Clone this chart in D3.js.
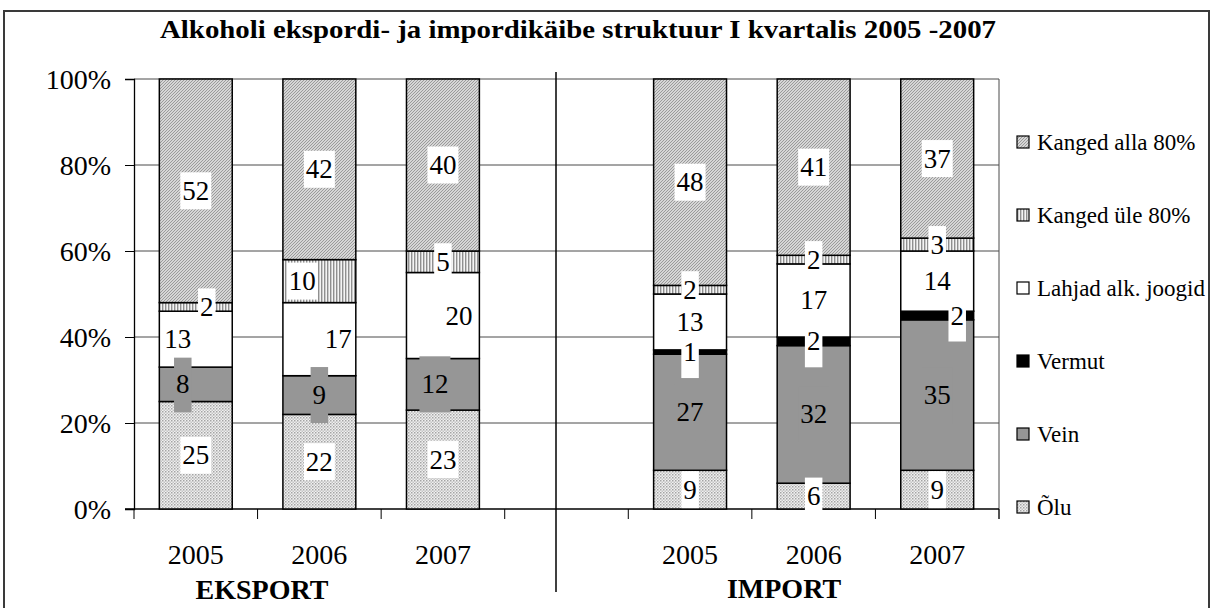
<!DOCTYPE html>
<html>
<head>
<meta charset="utf-8">
<script src="https://cdn.jsdelivr.net/npm/d3@7"></script>
<style>
  body { margin: 0; background: #fff; }
</style>
</head>
<body>
<script>
var serif = "Liberation Serif";

// slots on the x axis: three export years, an empty slot, three import years
var categories = ["E2005", "E2006", "E2007", "gap", "I2005", "I2006", "I2007"];
var tickLabels = ["2005", "2006", "2007", "", "2005", "2006", "2007"];
var seriesNames = ["Õlu", "Vein", "Vermut", "Lahjad alk. joogid", "Kanged üle 80%", "Kanged alla 80%"];

// shares in %, bottom to top
var olu      = [25, 22, 23, 0,  9,  6,  9];
var vein     = [ 8,  9, 12, 0, 27, 32, 35];
var vermut   = [ 0,  0,  0, 0,  1,  2,  2];
var lahjad   = [13, 17, 20, 0, 13, 17, 14];
var kangedYl = [ 2, 10,  5, 0,  2,  2,  3];
var kangedAl = [52, 42, 40, 0, 48, 41, 37];

// Excel put some labels off centre, small x nudge in px
var labelNudge = {
  "E2005": [0, -13, 0, -18, 11, 0],
  "E2006": [0, 0, 0, 19, -17, 0],
  "E2007": [0, -8, 0, 16, 0, 0],
  "I2007": [0, 0, 20, 0, 0, 0]
};

var w = 1212, h = 608;
var margin = {left: 134, right: 213, top: 79, bottom: 99};

var rows = categories.map(function(c, i){
  return {
    cat: c,
    s0: olu[i], s1: vein[i], s2: vermut[i],
    s3: lahjad[i], s4: kangedYl[i], s5: kangedAl[i]
  };
});
var keys = ["s0", "s1", "s2", "s3", "s4", "s5"];

var svg = d3.select("body").append("svg")
            .attr("width", w)
            .attr("height", h)
            .style("font-family", serif);

// patterns
var defs = svg.append("defs");

var pHatch = defs.append("pattern").attr("id", "pAlla")
  .attr("patternUnits", "userSpaceOnUse").attr("width", 3).attr("height", 3);
pHatch.append("rect").attr("width", 3).attr("height", 3).attr("fill", "#d6d6d6");
pHatch.append("path").attr("d", "M-1,1 l2,-2 M0,3 l3,-3 M2,4 l2,-2")
  .attr("stroke", "#9a9a9a").attr("stroke-width", 1);

var pStripe = defs.append("pattern").attr("id", "pYle")
  .attr("patternUnits", "userSpaceOnUse").attr("width", 3).attr("height", 3);
pStripe.append("rect").attr("width", 3).attr("height", 3).attr("fill", "#f4f4f4");
pStripe.append("rect").attr("width", 1.4).attr("height", 3).attr("fill", "#8f8f8f");

var pDots = defs.append("pattern").attr("id", "pOlu")
  .attr("patternUnits", "userSpaceOnUse").attr("width", 3).attr("height", 3);
pDots.append("rect").attr("width", 3).attr("height", 3).attr("fill", "#f0f0f0");
pDots.append("rect").attr("width", 1.5).attr("height", 1.5).attr("fill", "#a4a4a4");
pDots.append("rect").attr("x", 1.5).attr("y", 1.5).attr("width", 1.5).attr("height", 1.5).attr("fill", "#c4c4c4");

var fills = ["url(#pOlu)", "#969696", "#000000", "#ffffff", "url(#pYle)", "url(#pAlla)"];
var labelBg = ["#ffffff", "#969696", "#ffffff", "#ffffff", "#ffffff", "#ffffff"];

// outer frame
svg.append("rect")
   .attr("x", 4).attr("y", 11)
   .attr("width", 1205).attr("height", 610)
   .attr("fill", "none")
   .attr("stroke", "#3a3a3a")
   .attr("stroke-width", 2);

// title is drawn wide in the original, stretch it to the same span
svg.append("text")
   .attr("x", 160).attr("y", 38)
   .attr("textLength", 836)
   .attr("lengthAdjust", "spacingAndGlyphs")
   .style("font-family", serif)
   .style("font-weight", "bold")
   .style("font-size", "25px")
   .text("Alkoholi ekspordi- ja impordikäibe struktuur I kvartalis 2005 -2007");

var x = d3.scaleBand()
          .domain(categories)
          .range([margin.left, w - margin.right])
          .paddingInner(0.41)
          .paddingOuter(0.205);

var y = d3.scaleLinear()
          .domain([0, 100])
          .range([h - margin.bottom, margin.top]);

// gridlines
svg.append("g").selectAll("line")
   .data([20, 40, 60, 80, 100])
   .enter().append("line")
   .attr("x1", margin.left).attr("x2", w - margin.right)
   .attr("y1", function(d){ return y(d); })
   .attr("y2", function(d){ return y(d); })
   .attr("stroke", "#4a4a4a")
   .attr("stroke-width", 1);

// right border of plot
svg.append("line")
   .attr("x1", w - margin.right).attr("x2", w - margin.right)
   .attr("y1", y(100)).attr("y2", y(0) + 10)
   .attr("stroke", "#4a4a4a").attr("stroke-width", 1);

// y axis
var yAxis = d3.axisLeft(y)
              .tickValues([0, 20, 40, 60, 80, 100])
              .tickFormat(function(d){ return d + "%"; })
              .tickSize(9)
              .tickPadding(14);
var gy = svg.append("g")
            .attr("transform", "translate(" + margin.left + ",0)")
            .call(yAxis);
gy.attr("font-family", serif).attr("font-size", 28);
gy.select(".domain").attr("stroke", "#000").attr("stroke-width", 1.3);
gy.selectAll(".tick line").attr("stroke", "#000");
gy.selectAll("text")
  .attr("dy", null)
  .attr("y", 9)
  .style("font-family", serif)
  .style("font-size", "28px");

// x axis line and ticks on band edges
svg.append("line")
   .attr("x1", margin.left - 9).attr("x2", w - margin.right)
   .attr("y1", y(0)).attr("y2", y(0))
   .attr("stroke", "#000").attr("stroke-width", 1.3);

var edges = d3.range(categories.length + 1).map(function(i){
  return margin.left + i * x.step();
});
svg.append("g").selectAll("line")
   .data(edges)
   .enter().append("line")
   .attr("x1", function(d){ return d; }).attr("x2", function(d){ return d; })
   .attr("y1", y(0)).attr("y2", y(0) + 10)
   .attr("stroke", "#000").attr("stroke-width", 1);

svg.append("g").selectAll("text")
   .data(categories)
   .enter().append("text")
   .attr("x", function(d){ return x(d) + x.bandwidth() / 2; })
   .attr("y", 564)
   .attr("text-anchor", "middle")
   .style("font-family", serif)
   .style("font-size", "28px")
   .text(function(d, i){ return tickLabels[i]; });

// group titles
svg.append("text")
   .attr("x", 262).attr("y", 599)
   .attr("text-anchor", "middle")
   .style("font-family", serif)
   .style("font-weight", "bold").style("font-size", "28px")
   .text("EKSPORT");
svg.append("text")
   .attr("x", 784).attr("y", 598)
   .attr("text-anchor", "middle")
   .style("font-family", serif)
   .style("font-weight", "bold").style("font-size", "28px")
   .text("IMPORT");

// divider between export and import
svg.append("line")
   .attr("x1", 556).attr("x2", 556)
   .attr("y1", 72).attr("y2", 592)
   .attr("stroke", "#000").attr("stroke-width", 1.5);

// stacked bars
var stack = d3.stack().keys(keys);
var layers = stack(rows);

var bars = svg.append("g").selectAll("g.layer")
   .data(layers)
   .enter().append("g")
   .attr("class", "layer")
   .attr("fill", function(d, i){ return fills[i]; });

bars.selectAll("rect")
    .data(function(d){ return d.filter(function(p){ return p[1] > p[0]; }); })
    .enter().append("rect")
    .attr("x", function(d){ return x(d.data.cat); })
    .attr("y", function(d){ return y(d[1]); })
    .attr("width", x.bandwidth())
    .attr("height", function(d){ return y(d[0]) - y(d[1]); })
    .attr("stroke", "#000")
    .attr("stroke-width", 1.5);

// data labels with filled boxes
var labels = [];
layers.forEach(function(layer, si){
  layer.forEach(function(p){
    var v = p[1] - p[0];
    if (v <= 0) return;
    var nudge = labelNudge[p.data.cat] ? labelNudge[p.data.cat][si] : 0;
    labels.push({
      si: si, v: v,
      cx: x(p.data.cat) + x.bandwidth() / 2 + nudge,
      cy: y((p[0] + p[1]) / 2)
    });
  });
});

var lab = svg.append("g").selectAll("g.lab")
   .data(labels)
   .enter().append("g")
   .attr("class", "lab");

lab.append("rect")
   .attr("fill", function(d){ return labelBg[d.si]; });

lab.append("text")
   .attr("x", function(d){ return d.cx; })
   .attr("y", function(d){ return d.cy + 9; })
   .attr("text-anchor", "middle")
   .style("font-family", serif)
   .style("font-size", "27px")
   .text(function(d){ return d.v; });

lab.each(function(d){
  var g = d3.select(this);
  var tw = g.select("text").node().getComputedTextLength();
  var bh = d.si === 1 ? 56 : 37;
  // vermut boxes hang below their text
  var top = d.si === 2 ? d.cy - 11 : d.cy - bh / 2;
  g.select("rect")
   .attr("x", d.cx - tw / 2 - 2)
   .attr("y", top)
   .attr("width", tw + 4)
   .attr("height", bh);
});

// legend, top item is the top series
var legend = svg.append("g").selectAll("g.leg")
   .data(seriesNames.slice().reverse())
   .enter().append("g")
   .attr("class", "leg")
   .attr("transform", function(d, i){
     return "translate(1017," + (142 + i * 73) + ")"; });

legend.append("rect")
   .attr("x", 0).attr("y", -6)
   .attr("width", 12).attr("height", 12)
   .attr("fill", function(d, i){ return fills[fills.length - 1 - i]; })
   .attr("stroke", "#000")
   .attr("stroke-width", 1.2);

legend.append("text")
   .attr("x", 20).attr("y", 8)
   .style("font-family", serif)
   .style("font-size", "23px")
   .text(function(d){ return d; });
</script>
</body>
</html>
